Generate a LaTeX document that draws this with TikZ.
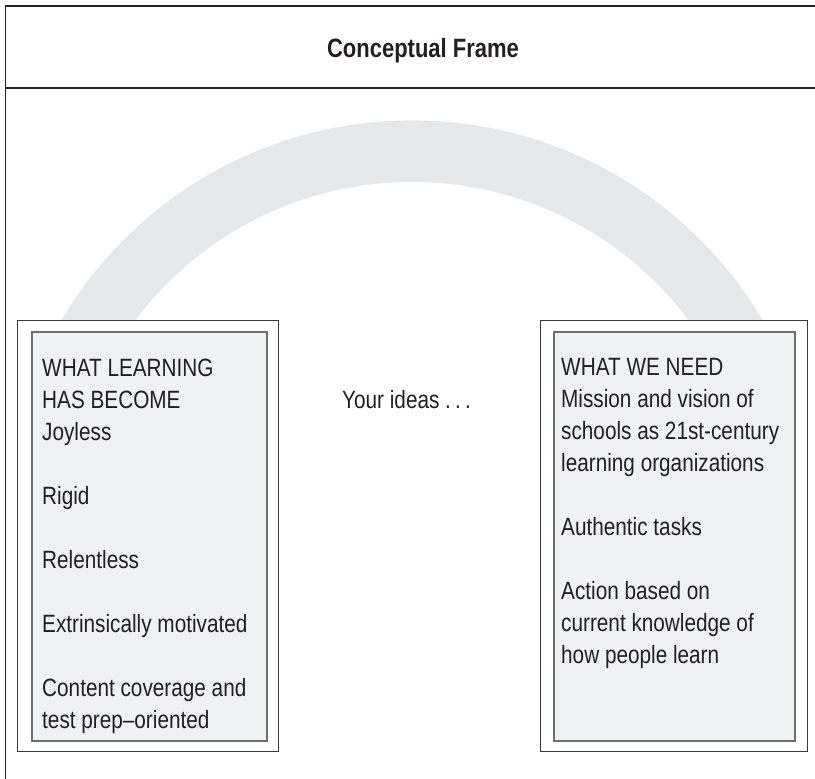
\documentclass[tikz,border=0pt]{standalone}
\usepackage{fontspec}
\setmainfont{Liberation Sans}[FakeStretch=0.83]
\definecolor{ink}{HTML}{231F20}
\definecolor{arcgray}{HTML}{E6E7E8}
\definecolor{panel}{HTML}{F0F1F3}
\definecolor{panelrule}{HTML}{6D6E70}
\definecolor{boxrule}{HTML}{3A3A3A}
\newcommand{\bodyfont}{\fontsize{25}{32}\selectfont}
\begin{document}
\begin{tikzpicture}[x=1pt,y=-1pt,
  framerule/.style={draw=ink,line width=1.6pt},
  outerbox/.style={draw=boxrule,fill=white,line width=1.3pt,anchor=north west,inner sep=0pt},
  innerbox/.style={draw=panelrule,fill=panel,line width=1.5pt,anchor=north west,inner sep=0pt},
  listtext/.style={anchor=base west,inner sep=0pt,text=ink},
  titletext/.style={anchor=base,inner sep=0pt,text=ink,font=\fontsize{26.5}{32}\selectfont\bfseries}]
\useasboundingbox (0,0) rectangle (815,779);

% open frame with its title band
\draw[framerule] (815,6) -- (5.5,6) -- (5.5,779);
\draw[framerule] (5.5,88) -- (815,88);
\node[titletext] (title) at (423,57) {Conceptual Frame};

% grey arch joining the two panels
\begin{scope}
  \clip (0,100) rectangle (815,320);
  \draw[arcgray,line width=61.6pt] (412,528) circle[radius=376.8pt];
\end{scope}

% left panel
\node[outerbox,minimum width=261pt,minimum height=431pt] (leftouter) at (17,320) {};
\node[innerbox,minimum width=235pt,minimum height=409pt] (leftinner) at (31,331) {};
\node[listtext] (lefttext) at (42,376) {\parbox[t]{225pt}{\bodyfont\raggedright
WHAT LEARNING\\
HAS BECOME\\
Joyless\\[32pt]
Rigid\\[32pt]
Relentless\\[32pt]
Extrinsically motivated\\[32pt]
Content coverage and\\
test prep\textendash oriented}};

% right panel
\node[outerbox,minimum width=267pt,minimum height=431pt] (rightouter) at (540,320) {};
\node[innerbox,minimum width=241pt,minimum height=409pt] (rightinner) at (553,331) {};
\node[listtext] (righttext) at (561,375) {\parbox[t]{232pt}{\bodyfont\raggedright
WHAT WE NEED\\
Mission and vision of\\
schools as 21st-century\\
learning organizations\\[32pt]
Authentic tasks\\[32pt]
Action based on\\
current knowledge of\\
how people learn}};

% prompt between the panels
\node[listtext] (ideas) at (342,408) {\bodyfont Your ideas .\,.\,.};
\end{tikzpicture}
\end{document}
